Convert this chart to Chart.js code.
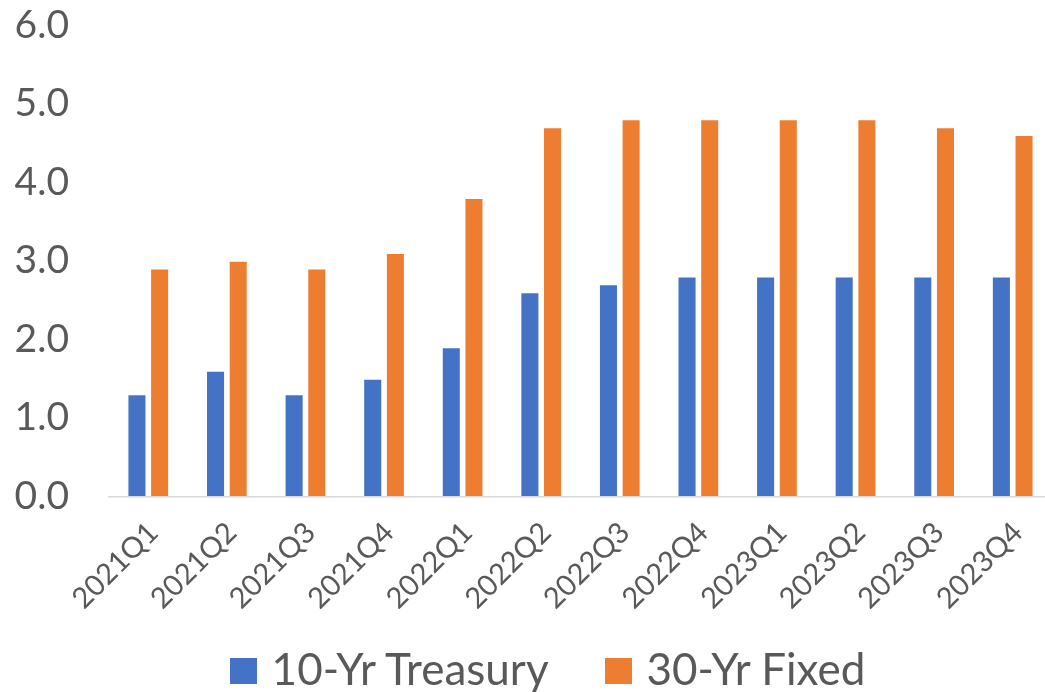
<!DOCTYPE html>
<html>
<head>
<meta charset="utf-8">
<script src="https://cdn.jsdelivr.net/npm/chart.js@4/dist/chart.umd.min.js"></script>
<style>
  html, body { margin: 0; padding: 0; background: #ffffff; overflow: hidden; }
  #wrap { width: 1045px; height: 692px; position: relative; overflow: hidden; }
  #c { position: absolute; left: 0; top: 0; }
  #legend { position: absolute; left: 0; top: 641.6px; width: 1045px; box-sizing: border-box; padding-left: 50px;
    display: flex; justify-content: center; align-items: flex-start;
    font-family: Lato, sans-serif; font-size: 44px; line-height: 1.2; color: #595959; }
  .item { display: flex; align-items: flex-start; white-space: nowrap; }
  .item + .item { margin-left: 56px; }
  .swatch { width: 27px; height: 26px; margin-top: 16.4px; margin-right: 15px; flex: none; }
</style>
</head>
<body>
<div id="wrap"><canvas id="c" width="1052" height="692"></canvas><div id="legend"></div></div>
<script>
const categories = ['2021Q1','2021Q2','2021Q3','2021Q4','2022Q1','2022Q2','2022Q3','2022Q4','2023Q1','2023Q2','2023Q3','2023Q4'];
const treasury10 = [1.3, 1.6, 1.3, 1.5, 1.9, 2.6, 2.7, 2.8, 2.8, 2.8, 2.8, 2.8];
const fixed30 = [2.9, 3.0, 2.9, 3.1, 3.8, 4.7, 4.8, 4.8, 4.8, 4.8, 4.7, 4.6];
const seriesNames = ['10-Yr Treasury', '30-Yr Fixed'];
const seriesColors = ['#4472C4', '#ED7D31'];
const yTickMin = 0, yTickMax = 6, yTickStep = 1;

const FONT = 'Lato';
const GRAY = '#595959';

const chart = new Chart(document.getElementById('c'), {
  type: 'bar',
  data: {
    labels: categories,
    datasets: [
      { label: seriesNames[0], data: treasury10, backgroundColor: seriesColors[0], borderColor: '#ffffff', borderWidth: 1,
        categoryPercentage: 0.577, barPercentage: 0.84 },
      { label: seriesNames[1], data: fixed30, backgroundColor: seriesColors[1], borderColor: '#ffffff', borderWidth: 1,
        categoryPercentage: 0.577, barPercentage: 0.84 }
    ]
  },
  options: {
    responsive: false,
    animation: false,
    devicePixelRatio: 1,
    layout: { padding: { top: 25, right: 0, bottom: 65.5, left: 0 } },
    plugins: {
      tooltip: { enabled: false },
      legend: { display: false }
    },
    scales: {
      x: {
        grid: { display: false, drawTicks: false },
        border: { display: true, color: '#d9d9d9', width: 1.5 },
        ticks: { font: { family: FONT, size: 29 }, color: GRAY, minRotation: 45, maxRotation: 45, padding: 19, labelOffset: 5, autoSkip: false },
        afterFit: s => { s.height = 130; s.paddingLeft = 0; s.paddingRight = 0; }
      },
      y: {
        min: yTickMin, max: yTickMax,
        grid: { display: true, drawOnChartArea: false, drawTicks: true, tickLength: 40, color: 'rgba(0,0,0,0)' },
        border: { display: false },
        ticks: { stepSize: yTickStep, font: { family: FONT, size: 39 }, color: GRAY, padding: 0,
          callback: v => Number(v).toFixed(1) },
        afterFit: s => { s.width = 109; }
      }
    }
  }
});

const legendEl = document.getElementById('legend');
chart.data.datasets.forEach(ds => {
  const item = document.createElement('div');
  item.className = 'item';
  const sw = document.createElement('span');
  sw.className = 'swatch';
  sw.style.background = ds.backgroundColor;
  const tx = document.createElement('span');
  tx.textContent = ds.label;
  item.appendChild(sw); item.appendChild(tx);
  legendEl.appendChild(item);
});
</script>
</body>
</html>
